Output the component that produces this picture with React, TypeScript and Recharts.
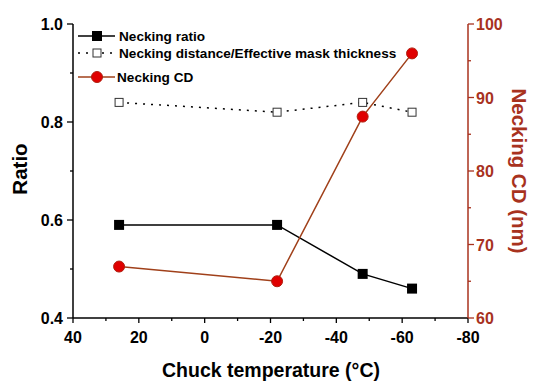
import { ComposedChart, Line, XAxis, YAxis } from "recharts";

const temps = [26, -22, -48, -63];
const neckingRatio = [0.59, 0.59, 0.49, 0.46];
const distOverThickness = [0.84, 0.82, 0.84, 0.82];
const neckingCD = [67, 65, 87.4, 96];

const xTicks = [40, 30, 20, 10, 0, -10, -20, -30, -40, -50, -60, -70, -80];
const leftTicks = [0.4, 0.5, 0.6, 0.7, 0.8, 0.9, 1.0];
const rightTicks = [60, 65, 70, 75, 80, 85, 90, 95, 100];

const data = temps.map((t, i) => ({
  t,
  ratio: neckingRatio[i],
  dist: distOverThickness[i],
  cd: neckingCD[i],
}));

const FONT = "'Liberation Sans', Arial, sans-serif";
const AXIS_RED = "#a8321e";
const CD_LINE = "#a0401a";

const XTick = (props: any) => {
  const { x, y, payload } = props;
  const major = payload.value % 20 === 0;
  return (
    <g>
      <line x1={x} x2={x} y1={y} y2={y + (major ? 5 : 3)} stroke="#000" strokeWidth={1.3} />
      {major && (
        <text x={x} y={y + 25} textAnchor="middle" fontFamily={FONT} fontWeight="bold" fontSize={16} fill="#000">
          {payload.value}
        </text>
      )}
    </g>
  );
};

const LeftTick = (props: any) => {
  const { x, y, payload } = props;
  const major = Math.round(payload.value * 10) % 2 === 0;
  return (
    <g>
      <line x1={x} x2={x - (major ? 6 : 3)} y1={y} y2={y} stroke="#000" strokeWidth={1.3} />
      {major && (
        <text x={x - 10} y={y + 6} textAnchor="end" fontFamily={FONT} fontWeight="bold" fontSize={16} fill="#000">
          {payload.value.toFixed(1)}
        </text>
      )}
    </g>
  );
};

const RightTick = (props: any) => {
  const { x, y, payload } = props;
  const major = payload.value % 10 === 0;
  return (
    <g>
      <line x1={x} x2={x + (major ? 6 : 3)} y1={y} y2={y} stroke={AXIS_RED} strokeWidth={1.3} />
      {major && (
        <text x={x + 8} y={y + 6} textAnchor="start" fontFamily={FONT} fontWeight="bold" fontSize={16} fill={AXIS_RED}>
          {payload.value}
        </text>
      )}
    </g>
  );
};

const FilledSquare = (props: any) => {
  const { cx, cy } = props;
  return <rect x={cx - 5} y={cy - 5} width={10} height={10} fill="#000" />;
};

const OpenSquare = (props: any) => {
  const { cx, cy } = props;
  return <rect x={cx - 4} y={cy - 4} width={8} height={8} fill="#fff" stroke="#333" strokeWidth={1} />;
};

const RedDot = (props: any) => {
  const { cx, cy } = props;
  return <circle cx={cx} cy={cy} r={5.5} fill="#e00000" stroke="#b02010" strokeWidth={1} />;
};

const Legend = () => (
  <g fontFamily={FONT} fontWeight="bold" fontSize={13.6} fill="#000">
    <line x1={78} x2={115} y1={36} y2={36} stroke="#000" strokeWidth={1.5} />
    <rect x={92} y={31} width={10} height={10} fill="#000" />
    <text x={119} y={41}>Necking ratio</text>
    <line x1={78} x2={115} y1={53} y2={53} stroke="#000" strokeWidth={1.5} strokeDasharray="2 6" />
    <rect x={93} y={49} width={8} height={8} fill="#fff" stroke="#333" />
    <text x={119} y={58}>Necking distance/Effective mask thickness</text>
    <line x1={78} x2={115} y1={77} y2={77} stroke={CD_LINE} strokeWidth={1.5} />
    <circle cx={97} cy={77} r={5.5} fill="#e00000" stroke="#b02010" />
    <text x={117} y={82}>Necking CD</text>
  </g>
);

const Titles = () => (
  <g fontFamily={FONT} fontWeight="bold" fontSize={20}>
    <text x={271} y={377} textAnchor="middle" fontSize={19.5} fill="#000">
      Chuck temperature (°C)
    </text>
    <text x={0} y={0} transform="translate(27 169) rotate(-90)" textAnchor="middle" fontSize={20.5} fill="#000">
      Ratio
    </text>
    <text x={0} y={0} transform="translate(512 171) rotate(90)" textAnchor="middle" fontSize={20.5} fill={AXIS_RED}>
      Necking CD (nm)
    </text>
  </g>
);

export default function App() {
  return (
    <div style={{ position: "absolute", left: 0, top: 0, width: 550, height: 390, background: "#fff" }}>
      <ComposedChart width={550} height={390} data={data} margin={{ top: 24, right: 0, bottom: 0, left: 0 }}>
        <XAxis
          dataKey="t"
          type="number"
          domain={[-80, 40]}
          reversed
          ticks={xTicks}
          interval={0}
          height={72}
          tickSize={0}
          tickMargin={0}
          tick={<XTick />}
          tickLine={false}
          axisLine={{ stroke: "#000", strokeWidth: 1.5 }}
        />
        <XAxis xAxisId="top" orientation="top" type="number" domain={[-80, 40]} reversed tick={false} tickLine={false} height={0} axisLine={{ stroke: "#000", strokeWidth: 1.5 }} />
        <YAxis
          yAxisId="left"
          type="number"
          domain={[0.4, 1.0]}
          ticks={leftTicks}
          interval={0}
          width={73}
          tickSize={0}
          tickMargin={0}
          tick={<LeftTick />}
          tickLine={false}
          axisLine={{ stroke: "#000", strokeWidth: 1.5 }}
        />
        <YAxis
          yAxisId="right"
          orientation="right"
          type="number"
          domain={[60, 100]}
          ticks={rightTicks}
          interval={0}
          width={82}
          tickSize={0}
          tickMargin={0}
          tick={<RightTick />}
          tickLine={false}
          axisLine={{ stroke: AXIS_RED, strokeWidth: 1.5 }}
        />
        <Line yAxisId="left" dataKey="ratio" stroke="#000" strokeWidth={1.5} dot={<FilledSquare />} isAnimationActive={false} />
        <Line yAxisId="left" dataKey="dist" stroke="#000" strokeWidth={1.5} strokeDasharray="2 6" dot={<OpenSquare />} isAnimationActive={false} />
        <Line yAxisId="right" dataKey="cd" stroke={CD_LINE} strokeWidth={1.5} dot={<RedDot />} isAnimationActive={false} />
        <Legend />
        <Titles />
      </ComposedChart>
    </div>
  );
}
